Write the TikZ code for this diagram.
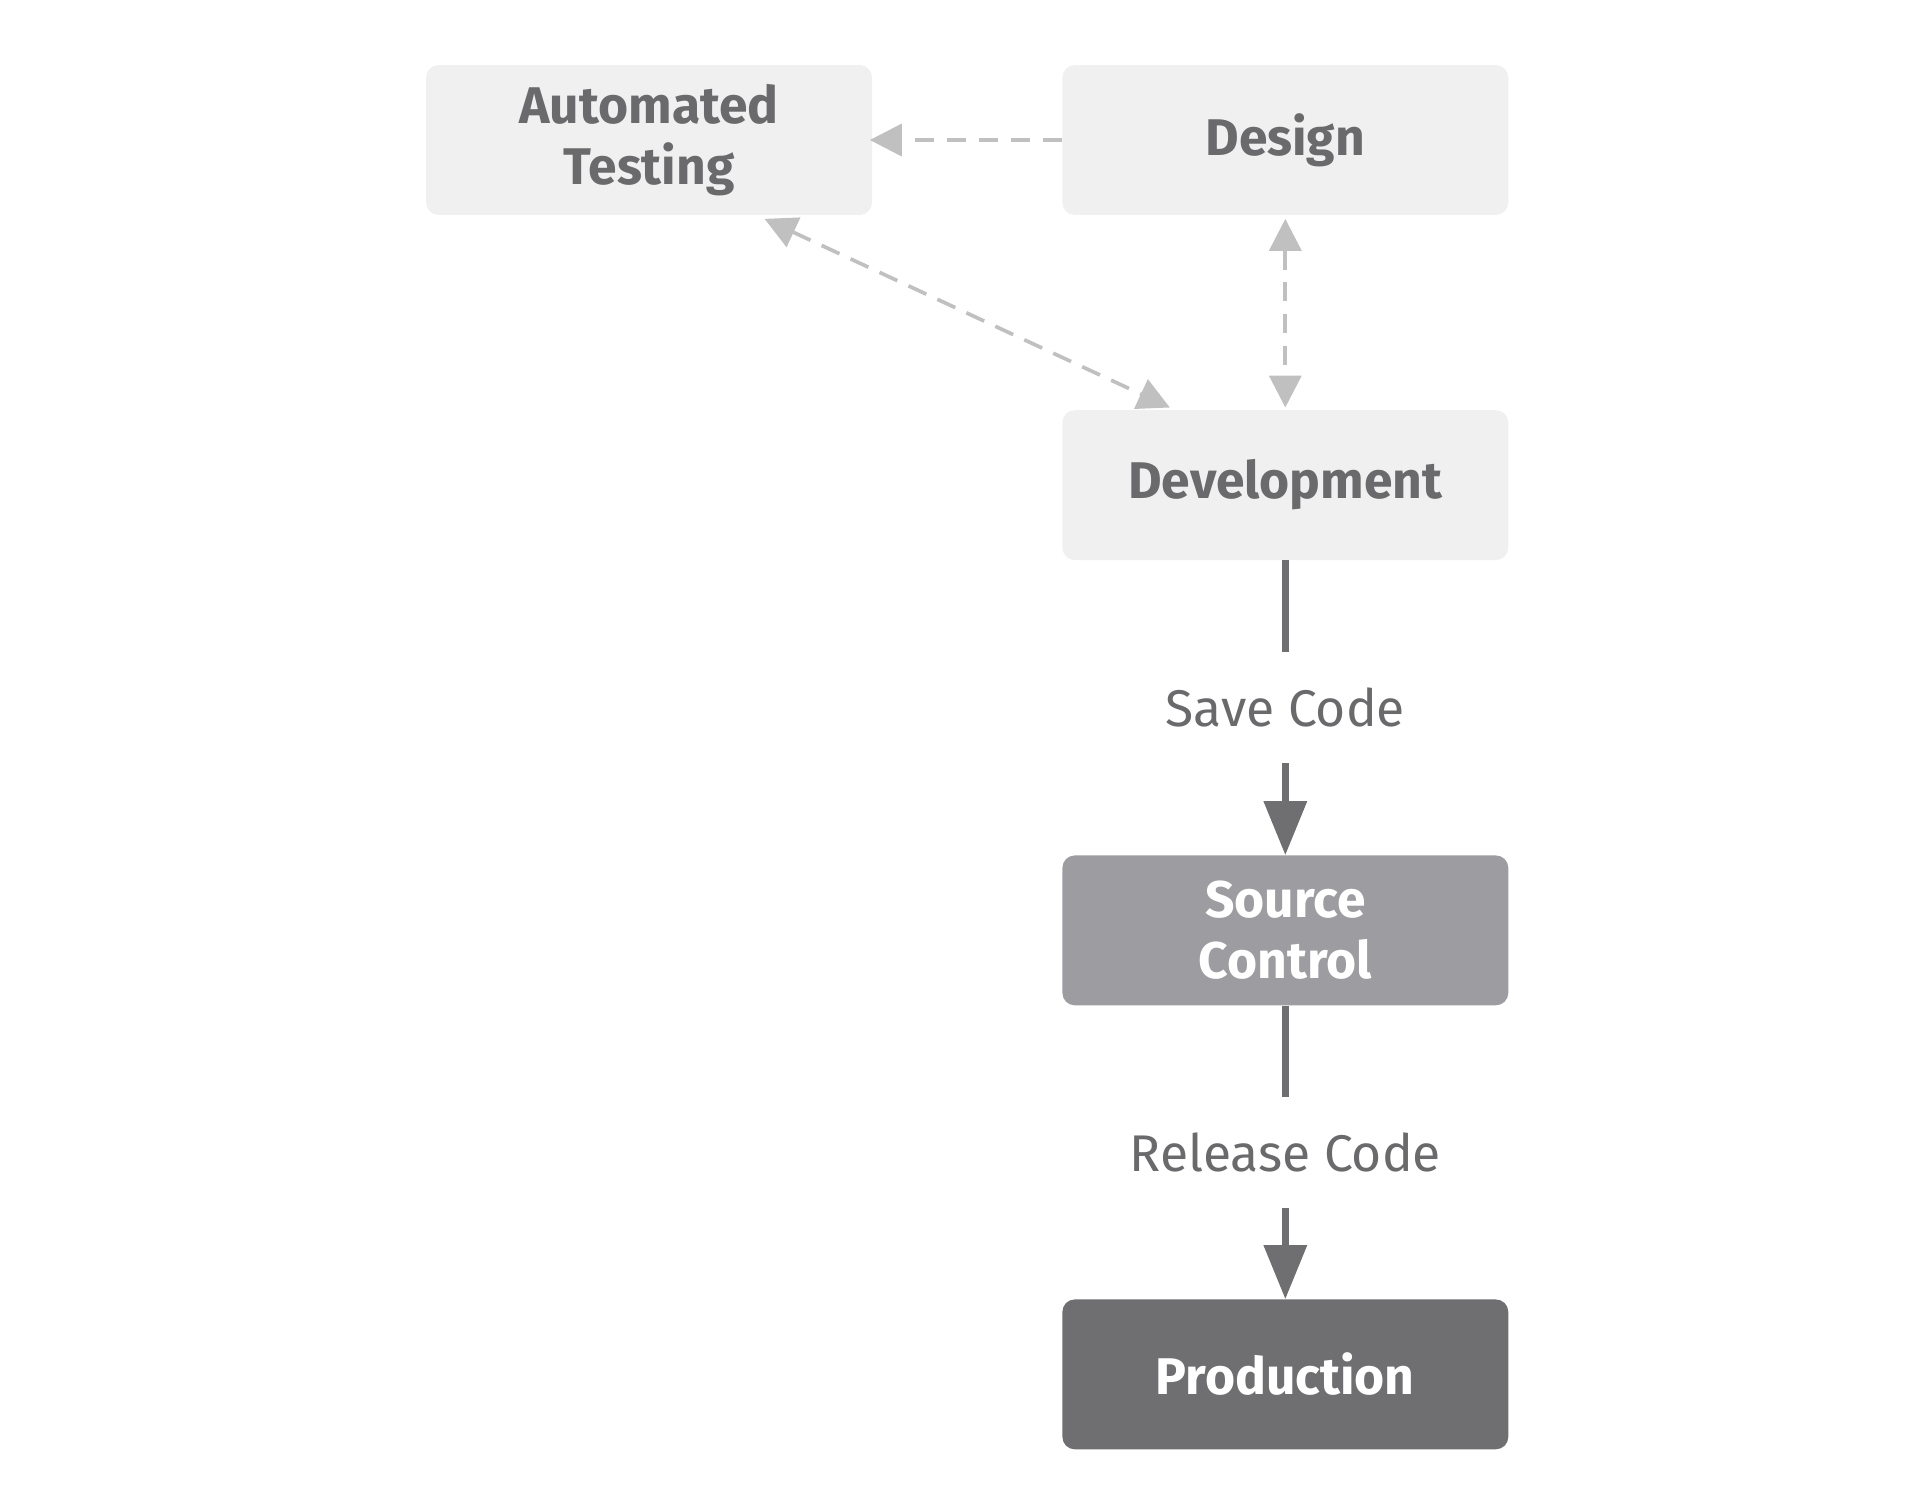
\documentclass[tikz,border=0pt]{standalone}
\usepackage{fontspec}
\setmainfont{Fira Sans}
\usetikzlibrary{arrows.meta}
\definecolor{lightbox}{HTML}{F0F0F0}
\definecolor{txt}{HTML}{6A6A6C}
\definecolor{midbox}{HTML}{9D9DA1}
\definecolor{darkbox}{HTML}{6F6F71}
\definecolor{dash}{HTML}{C0C0C0}
\begin{document}
\begin{tikzpicture}[x=1pt,y=-1pt,
  box/.style={rounded corners=10pt,minimum width=363pt,minimum height=122pt,align=center,font=\fontsize{42}{50}\selectfont\bfseries,inner sep=0pt},
  light/.style={box,fill=lightbox,text=txt},
  dashln/.style={draw=dash,line width=3pt,dash pattern=on 16pt off 10pt,-{Triangle[length=26pt,width=26pt]}},
  dashbi/.style={dashln,{Triangle[length=26pt,width=26pt]}-{Triangle[length=26pt,width=26pt]}},
  solid/.style={draw=darkbox,line width=6pt,-{Triangle[length=44pt,width=34pt]}},
  lbl/.style={fill=white,text=txt,font=\fontsize{42}{50}\selectfont,inner sep=2pt,minimum height=90pt}]
\useasboundingbox (0,0) rectangle (1560,1220);
\node[light] (at) at (528.5,114) {Automated\\Testing};
\node[light] (de) at (1046.5,114) {Design};
\node[light] (dv) at (1046.5,395) {Development};
\node[box,fill=midbox,text=white] (sc) at (1046.5,757.5) {Source\\Control};
\node[box,fill=darkbox,text=white] (pr) at (1046.5,1119) {Production};
\draw[dashln] (de.west) -- ([xshift=-2pt]at.east);
\draw[dashbi] ([xshift=94pt,yshift=-3pt]at.south) -- ([xshift=-94pt,yshift=2pt]dv.north);
\draw[dashbi] ([yshift=-3pt]de.south) -- ([yshift=2pt]dv.north);
\draw[solid] (dv.south) -- node[lbl]{Save Code} (sc.north);
\draw[solid] (sc.south) -- node[lbl]{Release Code} (pr.north);
\end{tikzpicture}
\end{document}
